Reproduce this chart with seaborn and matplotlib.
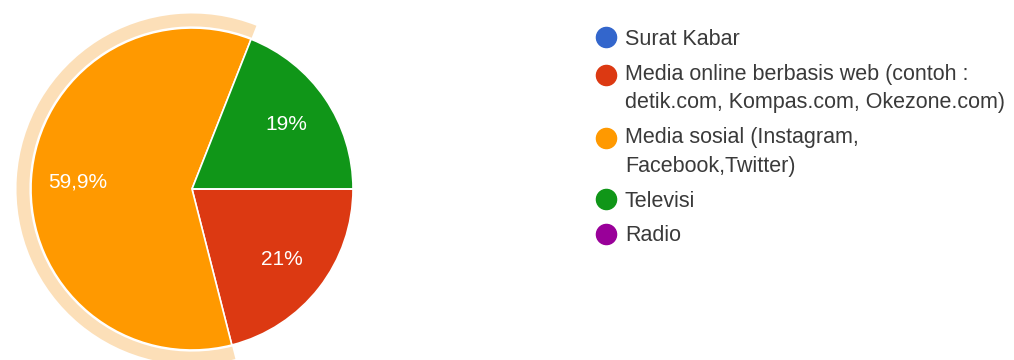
import matplotlib
matplotlib.use("Agg")
import matplotlib.pyplot as plt
from matplotlib.patches import Wedge
from matplotlib.lines import Line2D
from matplotlib.legend_handler import HandlerLine2D
import seaborn as sns

categories = [
    "Surat Kabar",
    "Media online berbasis web (contoh :\ndetik.com, Kompas.com, Okezone.com)",
    "Media sosial (Instagram,\nFacebook,Twitter)",
    "Televisi",
    "Radio",
]
values = [0.0, 21.0, 59.9, 19.0, 0.0]
pct_labels = ["", "21%", "59,9%", "19%", ""]
colors = ["#3366cc", "#dc3912", "#ff9900", "#109618", "#990099"]
highlight_index = 2

sns.set_theme(style="white")
plt.rcParams["font.family"] = ["Liberation Sans", "DejaVu Sans"]

fig = plt.figure(figsize=(10.14, 3.6), dpi=100)
R = 161.0
cx, cy = 192.0, 189.0
ax = fig.add_axes([(cx - R) / 1014, (360 - cy - R) / 360, 2 * R / 1014, 2 * R / 360])

wedges, texts = ax.pie(
    values,
    colors=colors,
    labels=pct_labels,
    labeldistance=0.71,
    startangle=0,
    counterclock=False,
    radius=1.0,
    wedgeprops=dict(edgecolor="white", linewidth=1.2),
    textprops=dict(color="white", fontsize=15),
    normalize=True,
)
for t in texts:
    t.set_ha("center")
    t.set_va("center")

hw = wedges[highlight_index]
halo = Wedge((0, 0), 1.09, hw.theta1, hw.theta2, width=0.08,
             facecolor="#fcdfb8", edgecolor="none", clip_on=False)
ax.add_patch(halo)
ax.set_xlim(-1, 1)
ax.set_ylim(-1, 1)
ax.set_aspect("equal")
ax.axis("off")


class FirstLineHandler(HandlerLine2D):
    """Place the legend marker next to the first line of a multi-line label."""

    def __init__(self, shift, **kw):
        super().__init__(**kw)
        self.shift = shift

    def create_artists(self, legend, orig_handle, xdescent, ydescent,
                       width, height, fontsize, trans):
        arts = super().create_artists(legend, orig_handle, xdescent, ydescent,
                                      width, height, fontsize, trans)
        for a in arts:
            if isinstance(a, Line2D):
                a.set_ydata([y + self.shift for y in a.get_ydata()])
        return arts


leg_fs = 15.5
handles = [Line2D([0], [0], marker="o", linestyle="none", markersize=14.5,
                  markerfacecolor=c, markeredgecolor=c) for c in colors]
hmap = {h: FirstLineHandler((lab.count("\n")) * 0.66 * leg_fs)
        for h, lab in zip(handles, categories)}
leg = fig.legend(handles, categories, loc="upper left",
                 bbox_to_anchor=(595 / 1014, 1 - 29 / 360),
                 frameon=False, fontsize=leg_fs, labelcolor="#3a3a3a",
                 handletextpad=0.39, labelspacing=0.64, handlelength=1.0,
                 borderaxespad=0, borderpad=0, handler_map=hmap)
for t in leg.get_texts():
    t.set_linespacing(1.48)

fig.savefig("out.png", dpi=100, facecolor="white")
